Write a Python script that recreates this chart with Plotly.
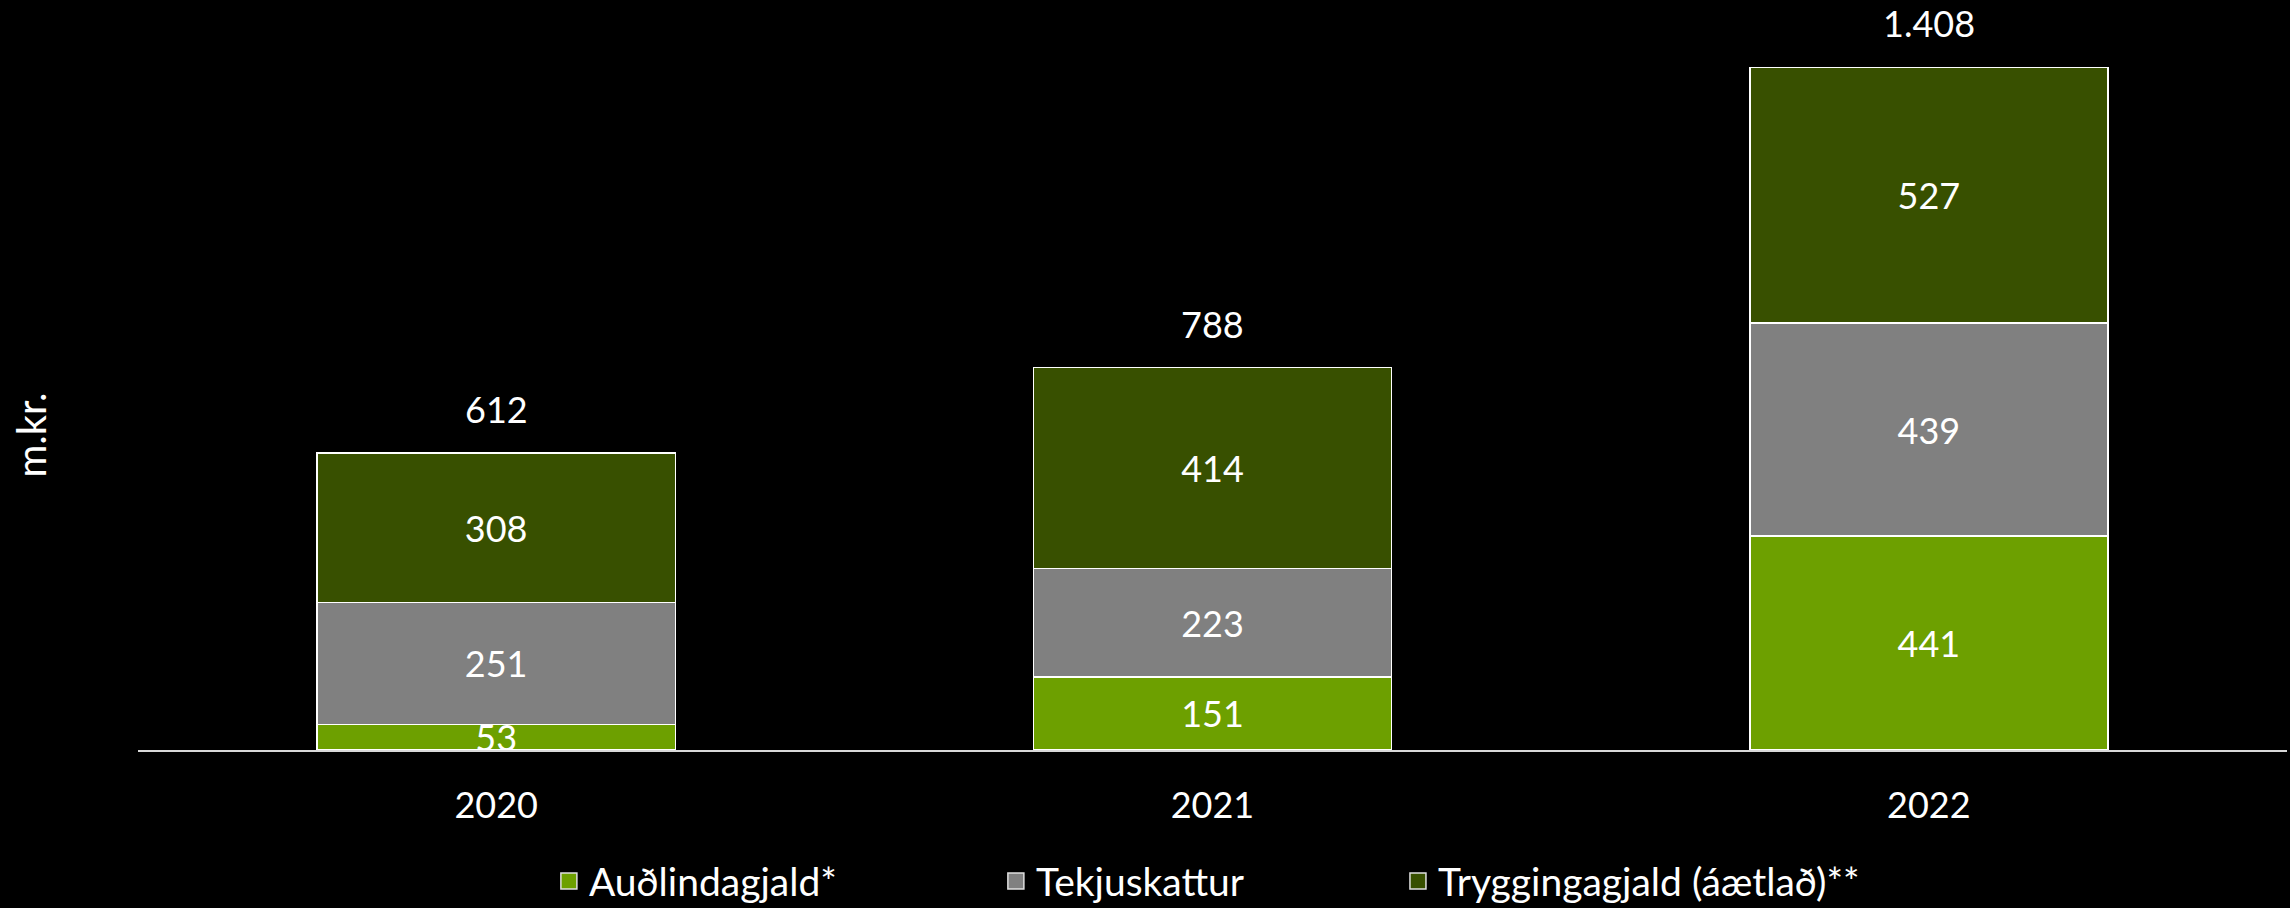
import plotly.graph_objects as go

years = ["2020", "2021", "2022"]
audlindagjald = [53, 151, 441]
tekjuskattur = [251, 223, 439]
tryggingagjald = [308, 414, 527]
total_labels = ["612", "788", "1.408"]

series_names = ["Auðlindagjald*", "Tekjuskattur", "Tryggingagjald (áætlað)**"]
series_values = [audlindagjald, tekjuskattur, tryggingagjald]
colors = ["#6DA000", "#808080", "#385000"]

FONT = "Lato"
FS = 36
LFS = 39

totals = [a + b + c for a, b, c in zip(audlindagjald, tekjuskattur, tryggingagjald)]

fig = go.Figure()
for name, vals, col in zip(series_names, series_values, colors):
    fig.add_trace(go.Bar(
        x=years, y=vals, name=name,
        marker=dict(color=col, line=dict(color="white", width=1.5)),
        text=[str(v) for v in vals],
        textposition="inside", insidetextanchor="middle",
        textangle=0, constraintext="none",
        textfont=dict(family=FONT, size=FS, color="white"),
        showlegend=False,
        cliponaxis=False,
    ))

legend_names = ["legend", "legend2", "legend3"]
for name, col, lg in zip(series_names, colors, legend_names):
    fig.add_trace(go.Scatter(
        x=[None], y=[None], mode="markers", name=name,
        marker=dict(symbol="square", size=16, color=col,
                    line=dict(color="#e0e0e0", width=1.5)),
        showlegend=True, legend=lg,
    ))

for i, (tot, lab) in enumerate(zip(totals, total_labels)):
    fig.add_annotation(x=i, y=tot, text=lab, showarrow=False,
                       yanchor="middle", yshift=44,
                       font=dict(family=FONT, size=FS, color="white"))

fig.add_annotation(xref="paper", yref="paper", x=-0.05, y=0.42,
                   text="m.kr.", textangle=-90, showarrow=False,
                   xanchor="center", yanchor="middle",
                   font=dict(family=FONT, size=40, color="white"))

leg_common = dict(orientation="h", yanchor="middle", xanchor="left",
                  font=dict(family=FONT, size=LFS, color="white"),
                  bgcolor="rgba(0,0,0,0)", itemsizing="trace")

fig.update_layout(
    width=2290, height=908,
    paper_bgcolor="black", plot_bgcolor="black",
    barmode="stack", bargap=0.5,
    margin=dict(l=138, r=3, t=0, b=158, autoexpand=False),
    font=dict(family=FONT, size=FS, color="white"),
    legend=dict(x=0.1912, y=-0.175, **leg_common),
    legend2=dict(x=0.3992, y=-0.175, **leg_common),
    legend3=dict(x=0.5863, y=-0.175, **leg_common),
    xaxis=dict(type="category", categoryorder="array", categoryarray=years,
               range=[-0.5, len(years) - 0.5],
               showline=True, linecolor="#d9d9d9", linewidth=2,
               showgrid=False, ticks="", ticklabelstandoff=23,
               tickfont=dict(family=FONT, size=FS, color="white")),
    yaxis=dict(range=[0, 1546], visible=False, showgrid=False, zeroline=False),
)

fig.write_html(
    "out.html",
    config={"displayModeBar": False},
    post_script="document.body.style.margin='0';document.body.style.background='black';",
)
